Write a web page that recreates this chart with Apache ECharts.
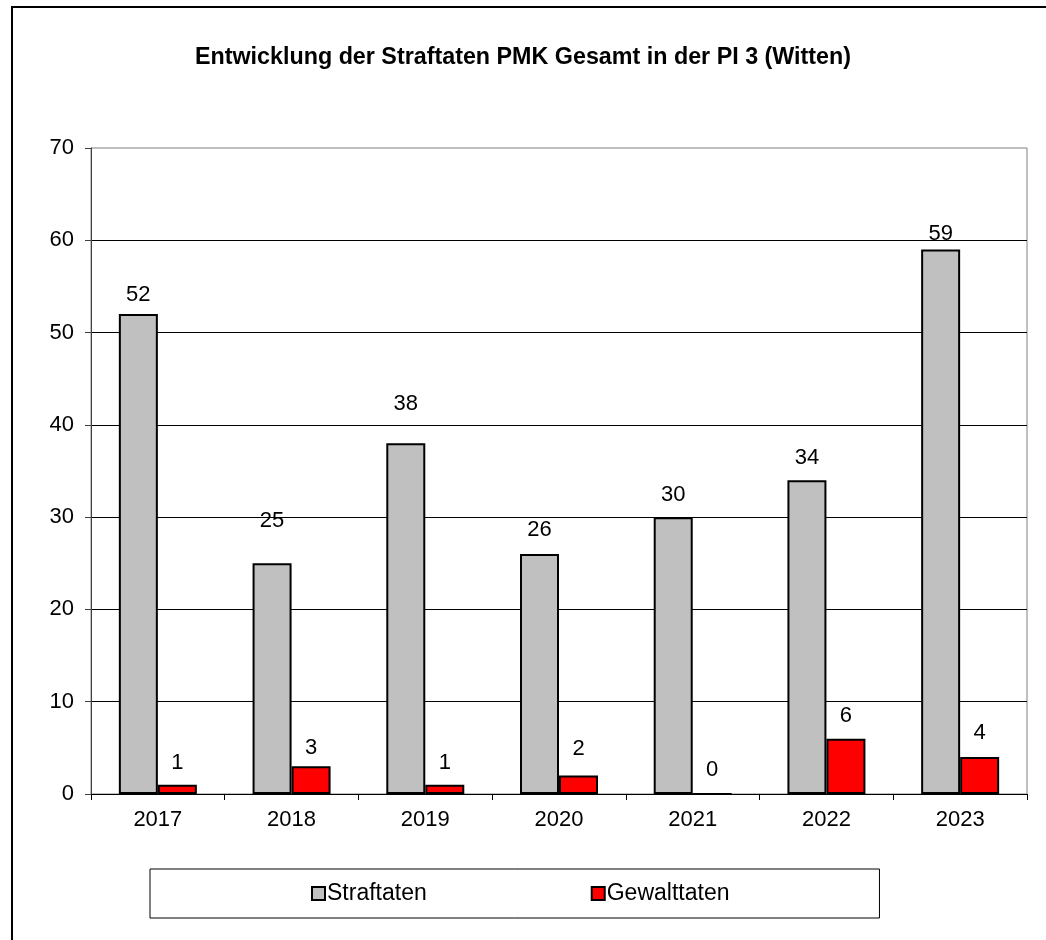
<!DOCTYPE html>
<html>
<head>
<meta charset="utf-8">
<script src="https://cdn.jsdelivr.net/npm/echarts@6/dist/echarts.min.js"></script>
<style>
html,body{margin:0;padding:0;background:#fff;}
#chart{width:1046px;height:940px;}
</style>
</head>
<body>
<div id="chart"></div>
<script>
const titleText = 'Entwicklung der Straftaten PMK Gesamt in der PI 3 (Witten)';
const years = ['2017', '2018', '2019', '2020', '2021', '2022', '2023'];
const straftaten = [52, 25, 38, 26, 30, 34, 59];
const gewalttaten = [1, 3, 1, 2, 0, 6, 4];
const yTicks = { min: 0, max: 70, interval: 10 };

// label offsets above bars (style only)
const straftatenLabelGap = [8, 31, 28, 13, 11, 11, 5];
const gewalttatenLabelGap = [11, 7, 11, 16, 12, 12, 13];

const FONT = 'Liberation Sans, Arial, sans-serif';
const chart = echarts.init(document.getElementById('chart'));

function buildData(values, gaps) {
  return values.map((v, i) => ({ value: v, label: { distance: gaps[i] } }));
}

const labelStyle = { show: true, position: 'top', color: '#000', fontFamily: FONT, fontSize: 22 };

chart.setOption({
  backgroundColor: '#fff',
  animation: false,
  title: {
    text: titleText,
    left: 'center',
    top: 41,
    textStyle: { fontFamily: FONT, fontSize: 23.3, fontWeight: 'bold', color: '#000' }
  },
  graphic: [{
    type: 'rect',
    shape: { x: 12, y: 7, width: 1200, height: 1100 },
    style: { fill: 'none', stroke: '#000', lineWidth: 2 },
    silent: true
  }],
  grid: {
    left: 91, right: 19, top: 148, bottom: 146,
    show: true, borderColor: '#808080', borderWidth: 1, backgroundColor: 'transparent'
  },
  legend: {
    left: 150, top: 869,
    padding: [13, 150, 13, 161],
    borderColor: '#000', borderWidth: 1,
    itemWidth: 13, itemHeight: 13, itemGap: 164,
    icon: 'rect',
    textStyle: { fontFamily: FONT, fontSize: 23, color: '#000', padding: [0, 0, 0, -3] },
    data: ['Straftaten', 'Gewalttaten']
  },
  xAxis: {
    type: 'category',
    data: years,
    axisLine: { lineStyle: { color: '#000', width: 1 } },
    axisTick: { show: true, length: 6, lineStyle: { color: '#000' } },
    axisLabel: { color: '#000', fontFamily: FONT, fontSize: 22, margin: 15 },
    splitLine: { show: false }
  },
  yAxis: {
    type: 'value',
    min: yTicks.min, max: yTicks.max, interval: yTicks.interval,
    axisLine: { show: true, lineStyle: { color: '#404040', width: 1 } },
    axisTick: { show: true, length: 6, lineStyle: { color: '#404040' } },
    axisLabel: { color: '#000', fontFamily: FONT, fontSize: 22, margin: 17 },
    splitLine: { show: true, showMinLine: false, showMaxLine: false, lineStyle: { color: '#000', width: 1 } }
  },
  series: [
    {
      name: 'Straftaten',
      type: 'bar',
      data: buildData(straftaten, straftatenLabelGap),
      barWidth: 39,
      barGap: '0%',
      itemStyle: { color: '#C0C0C0', borderColor: '#000', borderWidth: 2 },
      label: labelStyle
    },
    {
      name: 'Gewalttaten',
      type: 'bar',
      data: buildData(gewalttaten, gewalttatenLabelGap),
      barWidth: 39,
      barGap: '0%',
      itemStyle: { color: '#FF0000', borderColor: '#000', borderWidth: 2 },
      label: labelStyle
    }
  ]
});
</script>
</body>
</html>
